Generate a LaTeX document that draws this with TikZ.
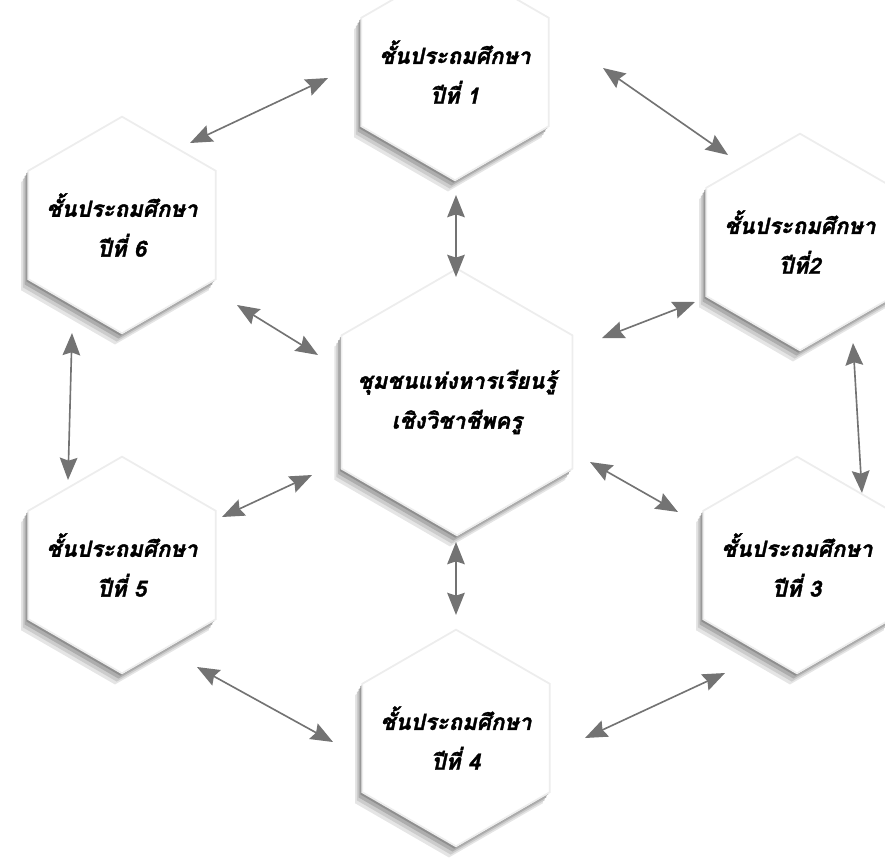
\documentclass[tikz,border=0pt]{standalone}
\usepackage{fontspec}
\usetikzlibrary{arrows.meta,shapes.geometric,shadows}
\newfontfamily\thaifont[Script=Thai,BoldFont={Loma Bold},BoldItalicFont={Loma Bold Oblique},
  BoldItalicFeatures={FakeBold=1.6}]{Loma}

\begin{document}
\begin{tikzpicture}[x=0.03cm,y=-0.03cm,
  hexa/.style={regular polygon,regular polygon sides=6,shape border rotate=30,
    minimum size=6.5cm,inner sep=0pt,fill=white,draw=black!7,line width=1.5pt,
    drop shadow={shadow xshift=-6pt,shadow yshift=-9.5pt,fill=black!10,opacity=1},
    drop shadow={shadow xshift=-4.5pt,shadow yshift=-7pt,fill=black!20,opacity=1},
    drop shadow={shadow xshift=-3pt,shadow yshift=-4.5pt,fill=black!32,opacity=1},
    drop shadow={shadow xshift=-1.5pt,shadow yshift=-2pt,fill=black!44,opacity=1}},
  bighexa/.style={hexa,minimum size=8.0cm},
  lbl/.style={align=center,inner sep=0pt,
    font=\thaifont\bfseries\itshape\fontsize{19}{34}\selectfont},
  link/.style={draw=black!55,line width=1.4pt,
    {Stealth[length=19pt,width=15pt,inset=2.5pt]}-{Stealth[length=19pt,width=15pt,inset=2.5pt]}}]
\useasboundingbox (0,0) rectangle (885,858);
\clip (0,0) rectangle (885,858);
% หกเหลี่ยม
\node[bighexa] (hc) at (457,402) {};
\node[hexa] (h1) at (455,72) {};
\node[hexa] (h2) at (800,242) {};
\node[hexa] (h3) at (797,565) {};
\node[hexa] (h4) at (456,738) {};
\node[hexa] (h5) at (122,565) {};
\node[hexa] (h6) at (122,225) {};
% ข้อความ
\node[lbl] (tc) at (hc) {ชุมชนแห่งหารเรียนรู้\\เชิงวิชาชีพครู};
\node[lbl] (t1) at (h1) {ชั้นประถมศึกษา\\ปีที่ 1};
\node[lbl] (t2) at (h2) {ชั้นประถมศึกษา\\ปีที่2};
\node[lbl] (t3) at (h3) {ชั้นประถมศึกษา\\ปีที่ 3};
\node[lbl] (t4) at (h4) {ชั้นประถมศึกษา\\ปีที่ 4};
\node[lbl] (t5) at (h5) {ชั้นประถมศึกษา\\ปีที่ 5};
\node[lbl] (t6) at (h6) {ชั้นประถมศึกษา\\ปีที่ 6};
% ปลายลูกศร
\coordinate (a16) at (328,78);   \coordinate (a61) at (190,143);
\coordinate (a12) at (603,68);   \coordinate (a21) at (728,155);
\coordinate (a1c) at (456,195);  \coordinate (ac1) at (456,277);
\coordinate (a6c) at (237,305);  \coordinate (ac6) at (318,355);
\coordinate (a2c) at (695,302);  \coordinate (ac2) at (602,338);
\coordinate (a23) at (853,343);  \coordinate (a32) at (862,493);
\coordinate (a65) at (72,333);   \coordinate (a56) at (68,480);
\coordinate (a5c) at (222,517);  \coordinate (ac5) at (312,475);
\coordinate (a3c) at (678,512);  \coordinate (ac3) at (590,462);
\coordinate (a4c) at (456,615);  \coordinate (ac4) at (456,542);
\coordinate (a54) at (197,667);  \coordinate (a45) at (333,742);
\coordinate (a43) at (725,673);  \coordinate (a34) at (585,738);
% ลูกศรสองทาง
\foreach \p/\q in {a61/a16,a12/a21,a1c/ac1,a6c/ac6,ac2/a2c,a23/a32,
                   a65/a56,a5c/ac5,ac3/a3c,ac4/a4c,a54/a45,a34/a43}
  \draw[link] (\p) -- (\q);
\end{tikzpicture}
\end{document}
